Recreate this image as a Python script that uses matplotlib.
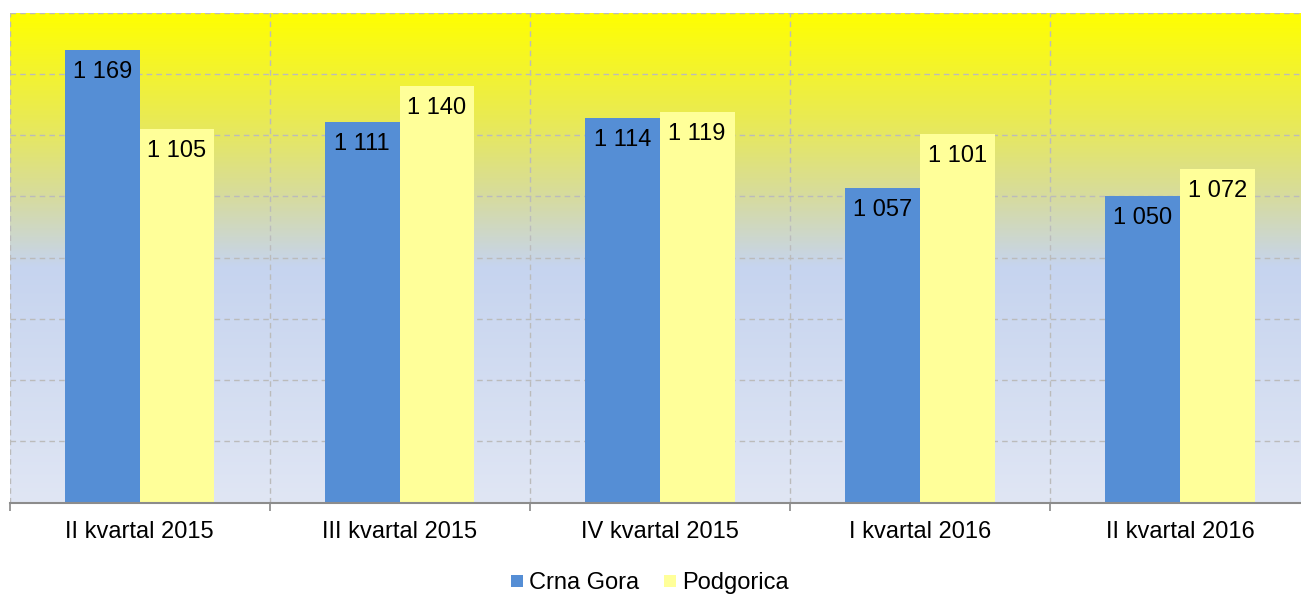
import numpy as np
import matplotlib
matplotlib.use("Agg")
import matplotlib.pyplot as plt
from matplotlib.colors import LinearSegmentedColormap
from matplotlib.lines import Line2D

categories = ["II kvartal 2015", "III kvartal 2015", "IV kvartal 2015", "I kvartal 2016", "II kvartal 2016"]
crna_gora = [1169, 1111, 1114, 1057, 1050]
podgorica = [1105, 1140, 1119, 1101, 1072]
series_names = ["Crna Gora", "Podgorica"]

plt.rcParams['font.family'] = ['Liberation Sans', 'DejaVu Sans']

W, H = 1301, 595
fig = plt.figure(figsize=(W / 100, H / 100), dpi=100)
left, right, top, bottom = 9.5, 1310, 12.5, 502.5
ax = fig.add_axes([left / W, (H - bottom) / H, (right - left) / W, (bottom - top) / H])

ymin, ymax = 800, 1200
ax.set_ylim(ymin, ymax)
ax.set_xlim(-0.5, len(categories) - 0.5)

# gradient background
cmap = LinearSegmentedColormap.from_list("bg", [
    (0.0, "#FFFF00"),
    (0.22, "#E9EA55"),
    (0.38, "#D6DBA0"),
    (0.52, "#C6D4EF"),
    (1.0, "#E0E6F4"),
])
grad = np.linspace(0, 1, 256).reshape(-1, 1)
ax.imshow(grad, cmap=cmap, aspect="auto", extent=(-0.5, len(categories) - 0.5, ymin, ymax),
          origin="upper", zorder=0, interpolation="bilinear")

x = np.arange(len(categories))
w = 0.2875
b1 = ax.bar(x - w / 2, crna_gora, width=w, color="#558ED5", zorder=2)
b2 = ax.bar(x + w / 2, podgorica, width=w, color="#FFFF99", zorder=2)

def fmt(v):
    return f"{v:,}".replace(",", " ")

FS = 17
for bars, vals in ((b1, crna_gora), (b2, podgorica)):
    for r, v in zip(bars, vals):
        ax.annotate(fmt(v), (r.get_x() + r.get_width() / 2, v), xytext=(0, -22),
                    textcoords="offset pixels", ha="center", va="center",
                    fontsize=FS, color="black", zorder=3)

# grid
ax.set_yticks(np.arange(850, 1201, 50))
ax.yaxis.grid(True, linestyle=(0, (4, 3)), color="#BBBBBB", linewidth=1.0, zorder=1)
ax.set_xticks(x)
ax.set_xticks(np.arange(-0.5, len(categories), 1.0), minor=True)
ax.xaxis.grid(True, which="minor", linestyle=(0, (4, 3)), color="#BBBBBB", linewidth=1.0, zorder=1)
ax.set_xticklabels(categories, fontsize=FS)
ax.tick_params(axis="x", which="major", length=0, pad=13)
ax.tick_params(axis="x", which="minor", length=6, color="#888888", width=1.2, direction="out")
ax.tick_params(axis="y", left=False, labelleft=False)

for s in ("top", "right", "left"):
    ax.spines[s].set_visible(False)
ax.spines["bottom"].set_color("#8C8C8C")
ax.spines["bottom"].set_linewidth(1.5)
ax.spines["bottom"].set_zorder(4)

handles = [Line2D([], [], marker="s", linestyle="none", markersize=9, markeredgewidth=0,
                  color=c) for c in ("#558ED5", "#FFFF99")]
fig.legend(handles, series_names, loc="center", bbox_to_anchor=(648 / W, 1 - 583 / H),
           ncol=2, frameon=False, fontsize=FS, handletextpad=0.1, columnspacing=0.9,
           handlelength=0.8)

fig.savefig("out.png", dpi=100)
